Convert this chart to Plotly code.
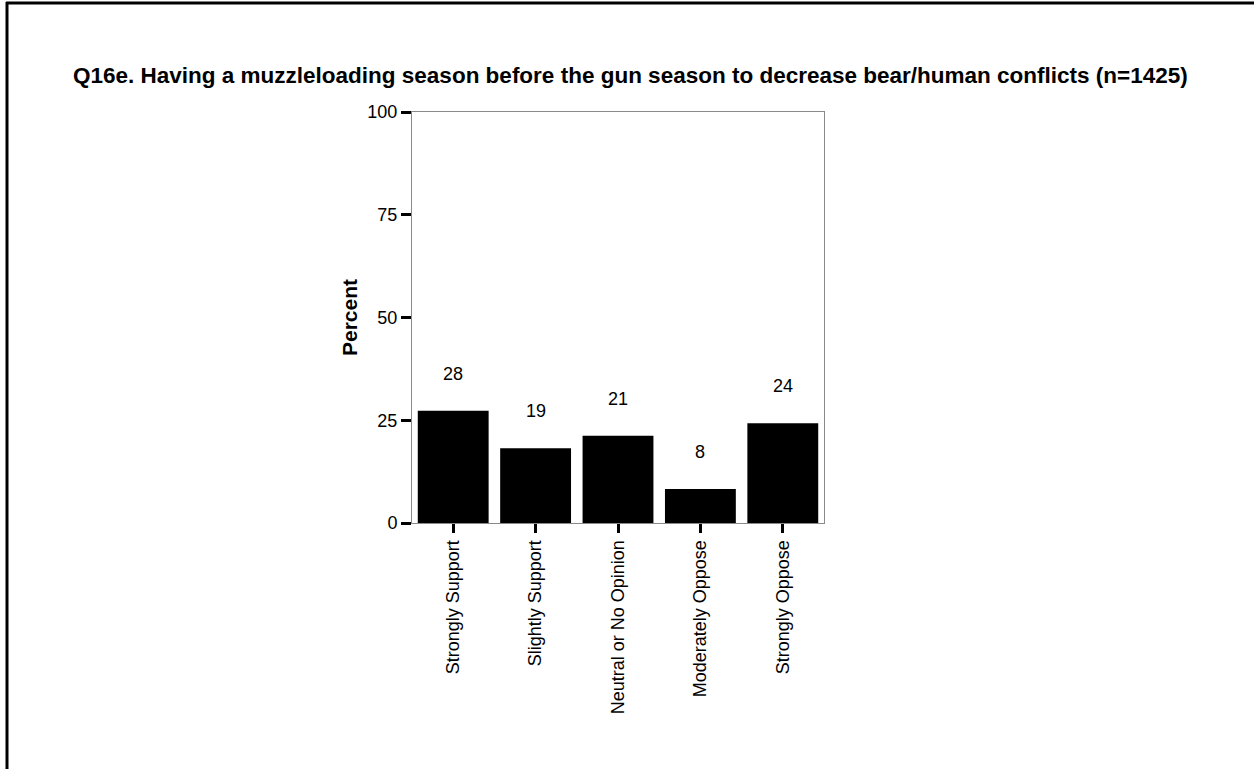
import plotly.graph_objects as go

categories = ["Strongly Support", "Slightly Support", "Neutral or No Opinion",
              "Moderately Oppose", "Strongly Oppose"]
values = [27.3, 18.2, 21.2, 8.3, 24.3]
value_labels = ["28", "19", "21", "8", "24"]
y_ticks = [0, 25, 50, 75, 100]
title_text = "Q16e. Having a muzzleloading season before the gun season to decrease bear/human conflicts (n=1425)"

W, H = 1254, 769
L, R, T, B = 412, 824, 112, 523

FONT = "Liberation Sans, Arial, sans-serif"

fig = go.Figure()
fig.add_trace(go.Bar(
    x=categories, y=values,
    marker=dict(color="black", line=dict(width=0)),
    hoverinfo="skip",
))

for c, v, t in zip(categories, values, value_labels):
    fig.add_annotation(x=c, y=v, text=t, showarrow=False, yshift=37,
                       yanchor="middle", font=dict(size=18, color="black", family=FONT))

def px_x(p):
    return (p - L) / (R - L)

def px_y(p):
    return (B - p) / (B - T)

# outer frame (left and top)
fig.add_shape(type="line", xref="paper", yref="paper",
              x0=px_x(7), x1=px_x(7), y0=px_y(2), y1=px_y(H + 5),
              line=dict(color="black", width=3))
fig.add_shape(type="line", xref="paper", yref="paper",
              x0=px_x(6), x1=px_x(W + 5), y0=px_y(3), y1=px_y(3),
              line=dict(color="black", width=3))

fig.add_annotation(xref="paper", yref="paper", x=px_x(630), y=px_y(75),
                   text="<b>" + title_text + "</b>", showarrow=False,
                   xanchor="center", yanchor="middle",
                   font=dict(size=22.5, color="black", family=FONT))

fig.add_annotation(xref="paper", yref="paper", x=px_x(349), y=px_y(318),
                   text="<b>Percent</b>", showarrow=False, textangle=-90,
                   xanchor="center", yanchor="middle",
                   font=dict(size=21, color="black", family=FONT))

fig.update_layout(
    width=W, height=H,
    margin=dict(l=L, r=W - R, t=T, b=H - B, pad=0),
    paper_bgcolor="white", plot_bgcolor="white",
    showlegend=False,
    bargap=0.14,
    font=dict(family=FONT, color="black", size=18),
    xaxis=dict(
        showgrid=False, zeroline=False,
        showline=True, linecolor="#8a8a8a", linewidth=1, mirror=True,
        ticks="outside", ticklen=9, tickwidth=3, tickcolor="black",
        tickangle=-90, tickfont=dict(size=18, family=FONT, color="black"),
    ),
    yaxis=dict(
        range=[0, 100], tickvals=y_ticks, ticktext=[str(v) for v in y_ticks],
        showgrid=False, zeroline=False,
        showline=True, linecolor="#8a8a8a", linewidth=1, mirror=True,
        ticks="outside", ticklen=10, tickwidth=3, tickcolor="black",
        tickfont=dict(size=18, family=FONT, color="black"),
    ),
)

fig.write_html("out.html", config={"displayModeBar": False},
               post_script="document.body.style.margin='0px';")
